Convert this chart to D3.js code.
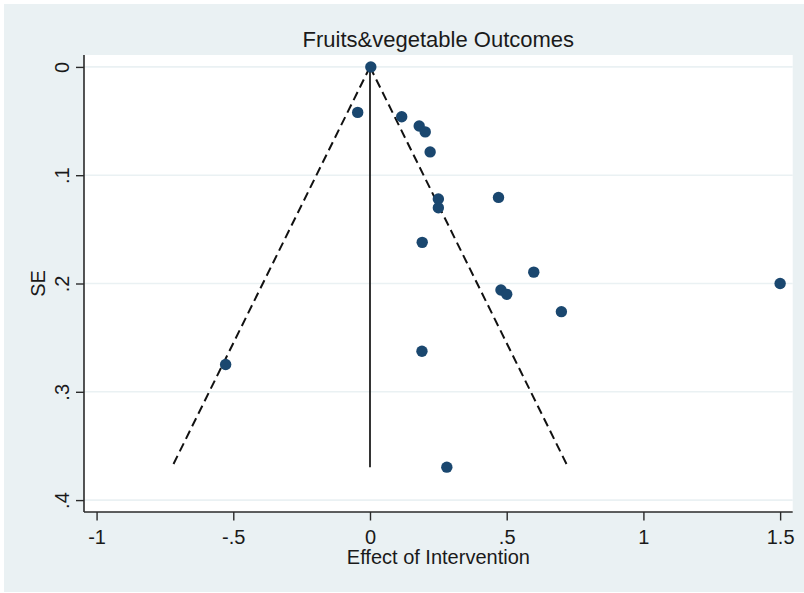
<!DOCTYPE html>
<html>
<head>
<meta charset="utf-8">
<script src="https://cdn.jsdelivr.net/npm/d3@7"></script>
<style>
  html, body { margin: 0; padding: 0; background: #ffffff; }
  svg { display: block; font-family: "Liberation Sans", Arial, sans-serif; }
</style>
</head>
<body>
<svg id="chart" width="804" height="593"></svg>
<script>
// Study estimates: effect size and its standard error
const effect = [0.003, -0.045, 0.116, 0.180, 0.202, 0.220, 0.250, 0.250, 0.470, 0.191, 0.599, 0.479, 0.500, 1.500, 0.700, 0.190, -0.528, 0.281];
const se     = [0.000, 0.042, 0.046, 0.0545, 0.060, 0.0785, 0.122, 0.130, 0.1205, 0.162, 0.1895, 0.206, 0.210, 0.200, 0.226, 0.2625, 0.2748, 0.3696];

// Axis ticks
const xTicks = [-1, -0.5, 0, 0.5, 1, 1.5];
const xTickLabels = ["-1", "-.5", "0", ".5", "1", "1.5"];
const yTicks = [0, 0.1, 0.2, 0.3, 0.4];
const yTickLabels = ["0", ".1", ".2", ".3", ".4"];

// Pooled effect and pseudo 95% limits
const pooled = 0;
const seMax = d3.max(se);
const z = 1.96;

const svg = d3.select("#chart");

// Graph region background
svg.append("rect")
  .attr("x", 4).attr("y", 4).attr("width", 800).attr("height", 588)
  .attr("fill", "#eaf1f3");

const plot = { left: 84, right: 792.7, top: 55, bottom: 512 };

const x = d3.scaleLinear().domain([-1.046, 1.546]).range([plot.left, plot.right]);
const y = d3.scaleLinear().domain([-0.011, 0.411]).range([plot.top, plot.bottom]);

// Plot region
svg.append("rect")
  .attr("x", plot.left).attr("y", plot.top)
  .attr("width", plot.right - plot.left).attr("height", plot.bottom - plot.top)
  .attr("fill", "#ffffff");

// Horizontal grid lines
svg.append("g").selectAll("line").data(yTicks).join("line")
  .attr("x1", plot.left).attr("x2", plot.right)
  .attr("y1", d => y(d)).attr("y2", d => y(d))
  .attr("stroke", "#eaf1f3").attr("stroke-width", 1.6);

// Funnel: vertical line at pooled effect and dashed pseudo-confidence limits
svg.append("line")
  .attr("x1", x(pooled)).attr("x2", x(pooled))
  .attr("y1", y(0)).attr("y2", y(seMax))
  .attr("stroke", "#1e1e1e").attr("stroke-width", 1.8);

[-1, 1].forEach(side => {
  svg.append("line")
    .attr("x1", x(pooled)).attr("y1", y(0))
    .attr("x2", x(pooled + side * z * seMax)).attr("y2", y(seMax))
    .attr("stroke", "#111111").attr("stroke-width", 2)
    .attr("stroke-dasharray", "9,5");
});

// Study markers
svg.append("g").selectAll("circle").data(effect.map((e, i) => ({ e, s: se[i] }))).join("circle")
  .attr("cx", d => x(d.e)).attr("cy", d => y(d.s))
  .attr("r", 5.7)
  .attr("fill", "#1a476f");

// X axis
const xAxis = svg.append("g")
  .attr("transform", `translate(0,${plot.bottom})`)
  .call(d3.axisBottom(x).tickValues(xTicks)
    .tickFormat((d, i) => xTickLabels[i])
    .tickSizeInner(8.5).tickSizeOuter(0).tickPadding(9.3));
xAxis.select(".domain").attr("stroke", "#2a2a2a").attr("stroke-width", 1.6)
  .attr("d", `M${plot.left},0H${plot.right}`);
xAxis.selectAll(".tick line").attr("stroke", "#2a2a2a").attr("stroke-width", 1.4);
xAxis.selectAll(".tick text").attr("font-size", 20).attr("fill", "#1a1a1a")
  .attr("font-family", "'Liberation Sans', Arial, sans-serif");

// Y axis with rotated labels
const yAxis = svg.append("g")
  .attr("transform", `translate(${plot.left},0)`)
  .call(d3.axisLeft(y).tickValues(yTicks)
    .tickFormat((d, i) => yTickLabels[i])
    .tickSizeInner(8).tickSizeOuter(0));
yAxis.select(".domain").attr("stroke", "#2a2a2a").attr("stroke-width", 1.6)
  .attr("d", `M0,${plot.top}V${plot.bottom}`);
yAxis.selectAll(".tick line").attr("stroke", "#2a2a2a").attr("stroke-width", 1.4);
yAxis.selectAll(".tick text")
  .attr("transform", "rotate(-90)")
  .attr("x", 0).attr("y", -15.5).attr("dy", 0)
  .attr("text-anchor", "middle")
  .attr("font-size", 20).attr("fill", "#1a1a1a")
  .attr("font-family", "'Liberation Sans', Arial, sans-serif");

// Titles
svg.append("text")
  .attr("x", (plot.left + plot.right) / 2).attr("y", 46.5)
  .attr("text-anchor", "middle")
  .attr("font-size", 22).attr("fill", "#1a1a1a")
  .text("Fruits&vegetable Outcomes");

svg.append("text")
  .attr("x", (plot.left + plot.right) / 2).attr("y", 564)
  .attr("text-anchor", "middle")
  .attr("font-size", 20).attr("fill", "#1a1a1a")
  .text("Effect of Intervention");

svg.append("text")
  .attr("transform", `translate(45,${(plot.top + plot.bottom) / 2}) rotate(-90)`)
  .attr("text-anchor", "middle")
  .attr("font-size", 20).attr("fill", "#1a1a1a")
  .text("SE");
</script>
</body>
</html>
